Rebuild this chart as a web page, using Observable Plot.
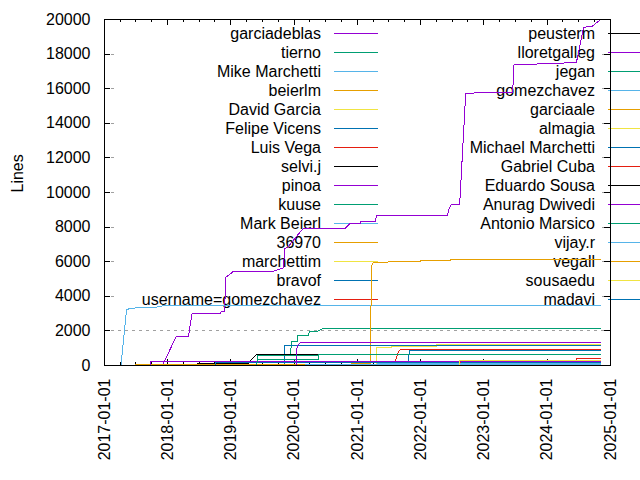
<!DOCTYPE html>
<html><head><meta charset="utf-8">
<script src="https://cdn.jsdelivr.net/npm/d3@7"></script>
<script src="https://cdn.jsdelivr.net/npm/@observablehq/plot@0.6"></script>
<style>html,body{margin:0;padding:0;background:#fff}#chart{width:640px;height:480px}</style>
</head><body><div id="chart"></div>
<script>
// ---- data ----
const authors = [
  "garciadeblas","tierno","Mike Marchetti","beierlm","David Garcia","Felipe Vicens","Luis Vega","selvi.j",
  "pinoa","kuuse","Mark Beierl","36970","marchettim","bravof","username=gomezchavez",
  "peusterm","lloretgalleg","jegan","gomezchavez","garciaale","almagia","Michael Marchetti","Gabriel Cuba",
  "Eduardo Sousa","Anurag Dwivedi","Antonio Marsico","vijay.r","vegall","sousaedu","madavi"
];
const palette = ["#9400d3","#009e73","#56b4e9","#e69f00","#f0e442","#0072b2","#e51e10","#000000"];

const garciadeblas = [["2017-12-05",60],["2018-02-19",1680],["2018-05-01",1680],["2018-05-21",2990],["2018-10-31",2990],["2018-11-06",3100],["2018-11-25",3100],["2018-12-03",5100],["2019-01-17",5450],["2019-09-03",5450],["2019-11-01",5650],["2019-11-07",6780],["2019-11-23",6800],["2020-01-27",7610],["2020-02-25",7940],["2020-10-23",7940],["2020-11-21",8230],["2021-01-18",8230],["2021-01-22",8340],["2021-04-15",8340],["2021-04-20",8690],["2022-06-05",8690],["2022-06-11",9000],["2022-06-25",9290],["2022-08-14",9290],["2022-09-18",15740],["2023-06-16",15800],["2023-06-24",17380],["2024-06-18",17510],["2024-07-30",19550],["2024-09-17",19600],["2024-11-05",20000]];
const tierno = [["2019-02-14",0],["2019-02-16",170],["2019-05-31",170],["2019-06-05",560],["2019-12-10",560],["2019-12-17",1360],["2020-01-18",1390],["2020-01-22",1730],["2020-03-23",1730],["2020-03-30",1980],["2020-05-13",1980],["2020-06-10",2120],["2024-11-05",2120]];
const mikeMarchetti = [["2017-04-06",0],["2017-05-08",3220],["2017-05-31",3310],["2017-11-19",3390],["2017-12-01",3450],["2024-11-05",3450]];
const beierlm = [["2020-11-24",0],["2020-11-25",100],["2021-03-17",100],["2021-03-19",3000],["2021-03-26",5880],["2021-04-04",5970],["2021-12-30",6010],["2021-12-31",6070],["2022-06-20",6070],["2022-06-22",6140],["2024-11-05",6150]];
const davidGarcia = [["2021-04-19",100],["2021-04-22",1020],["2021-07-16",1020],["2021-07-18",1100],["2022-04-01",1100],["2022-04-03",1200],["2024-11-05",1200]];
const felipeVicens = [["2019-11-06",0],["2019-11-08",1140],["2024-11-05",1140]];
const luisVega = [["2020-09-01",0],["2020-09-03",40],["2024-11-05",40]];
const selviJ = [["2018-06-18",0],["2018-06-19",95],["2019-04-14",100],["2019-04-22",270],["2019-05-31",660],["2024-11-05",660]];
const pinoa = [["2019-06-01",0],["2019-06-03",60],["2024-11-05",60]];
const kuuse = [["2019-05-30",0],["2019-06-03",330],["2020-05-21",330],["2020-05-23",660],["2024-11-05",660]];
const markBeierl = [["2021-04-20",0],["2021-04-22",90],["2024-11-05",90]];
const n36970 = [["2017-06-25",0],["2017-06-26",40],["2022-08-18",40],["2022-08-19",75],["2024-11-05",75]];
const marchettim = [["2022-08-14",0],["2022-08-16",30],["2024-11-05",30]];
const bravof = [["2018-10-01",0],["2018-10-03",160],["2024-11-05",160]];
const usernameGomezchavez = [["2022-08-18",0],["2022-08-19",230],["2024-06-18",230],["2024-06-20",390],["2024-11-05",390]];
const peusterm = [["2018-06-18",0],["2018-06-20",20],["2024-11-05",20]];
const lloretgalleg = [["2020-01-15",0],["2020-01-18",1140],["2020-02-05",1300],["2024-11-05",1330]];
const jegan = [["2021-06-08",0],["2021-06-10",70],["2024-11-05",70]];
const gomezchavez = [["2022-08-14",0],["2022-08-16",110],["2024-11-05",110]];
const garciaale = [["2021-03-01",0],["2021-03-03",50],["2024-11-05",50]];
const almagia = [["2023-01-10",0],["2023-01-12",40],["2024-11-05",40]];
const michaelMarchetti = [["2021-10-22",190],["2021-10-27",880],["2024-11-05",880]];
const gabrielCuba = [["2021-08-06",190],["2021-08-26",810],["2021-09-05",905],["2024-11-05",905]];
const eduardoSousa = [["2019-09-01",0],["2019-09-03",10],["2024-11-05",10]];
const anuragDwivedi = [["2017-09-23",0],["2017-09-26",230],["2020-06-01",240],["2024-11-05",250]];
const antonioMarsico = [["2019-05-30",0],["2019-06-05",590],["2020-05-21",590],["2020-05-23",625],["2024-11-05",625]];
const vijayR = [["2020-03-01",0],["2020-03-03",30],["2024-11-05",30]];
const vegall = [["2020-11-20",0],["2020-11-22",15],["2024-11-05",15]];
const sousaedu = [["2022-08-13",0],["2022-08-16",300],["2024-11-05",300]];
const madavi = [["2021-10-22",0],["2021-10-24",20],["2024-11-05",20]];

const seriesValues = [garciadeblas,tierno,mikeMarchetti,beierlm,davidGarcia,felipeVicens,luisVega,selviJ,
  pinoa,kuuse,markBeierl,n36970,marchettim,bravof,usernameGomezchavez,
  peusterm,lloretgalleg,jegan,gomezchavez,garciaale,almagia,michaelMarchetti,gabrielCuba,
  eduardoSousa,anuragDwivedi,antonioMarsico,vijayR,vegall,sousaedu,madavi];

const yTicks = [0,2000,4000,6000,8000,10000,12000,14000,16000,18000,20000];
const xTickLabels = ["2017-01-01","2018-01-01","2019-01-01","2020-01-01","2021-01-01","2022-01-01","2023-01-01","2024-01-01","2025-01-01"];
const yLabel = "Lines";

// ---- build ----
const parse = d3.utcParse("%Y-%m-%d");
const rows = authors.flatMap((a, i) => seriesValues[i].map(([d, v]) => ({author: a, date: parse(d), value: v})));
const xTicks = xTickLabels.map(parse);
const minorTicks = d3.utcMonth.every(3).range(xTicks[0], xTicks[xTicks.length - 1]).filter(d => d.getUTCMonth() !== 0);
const colors = authors.map((a, i) => palette[i % palette.length]);
const crisp = {shapeRendering: "crispEdges"};

const plot = Plot.plot({
  width: 640, height: 480,
  marginLeft: 104, marginRight: 30, marginTop: 19, marginBottom: 115,
  style: {fontFamily: '"Liberation Sans", Arial, sans-serif', fontSize: "16px", background: "white", color: "black"},
  x: {type: "utc", domain: [xTicks[0], xTicks[xTicks.length - 1]]},
  y: {domain: [0, 20000]},
  color: {domain: authors, range: colors},
  marks: [
    Plot.ruleY(yTicks.slice(1, -1), {stroke: "#a0a0a0", strokeDasharray: "3,4", strokeWidth: 1, ...crisp}),
    Plot.tickY(yTicks, {insetRight: 500, stroke: "black", ...crisp}),
    Plot.tickY(yTicks, {insetLeft: 500, stroke: "black", ...crisp}),
    Plot.tickX(xTicks, {insetBottom: 340, stroke: "black", ...crisp}),
    Plot.tickX(xTicks, {insetTop: 340, stroke: "black", ...crisp}),
    Plot.tickX(minorTicks, {insetBottom: 343, stroke: "black", ...crisp}),
    Plot.tickX(minorTicks, {insetTop: 343, stroke: "black", ...crisp}),
    Plot.axisX(xTicks, {tickFormat: d3.utcFormat("%Y-%m-%d"), tickRotate: -90, tickSize: 0, tickPadding: 13, label: null}),
    Plot.axisY(yTicks, {tickSize: 0, tickPadding: 14, label: null, tickFormat: d => String(d)}),
    Plot.text([yLabel], {frameAnchor: "left", dx: -87, rotate: -90, fill: "black"}),
    Plot.line(rows, {x: "date", y: "value", z: "author", stroke: "author", strokeWidth: 1, clip: true, ...crisp}),
    Plot.frame({stroke: "black", ...crisp})
  ]
});

// key (legend) inside the frame, two columns like the original
const key = d3.create("svg:g").attr("aria-label", "key")
  .attr("font-family", '"Liberation Sans", Arial, sans-serif').attr("font-size", 16);
key.append("rect").attr("x", 116).attr("y", 26).attr("width", 486).attr("height", 282).attr("fill", "white");
authors.forEach((a, i) => {
  const col = i < 15 ? 0 : 1, row = i % 15;
  const y = 33.5 + 19 * row;
  const tx = col ? 595 : 321, lx = col ? 608 : 334;
  key.append("text").attr("x", tx).attr("y", y).attr("dy", "0.35em").attr("text-anchor", "end").attr("fill", "#000").text(a);
  key.append("line").attr("x1", lx).attr("x2", lx + 44).attr("y1", y).attr("y2", y)
    .attr("stroke", colors[i]).attr("stroke-width", 1).attr("shape-rendering", "crispEdges");
});
const firstTick = plot.querySelector('g[aria-label="tick"]');
plot.insertBefore(key.node(), firstTick);

document.getElementById("chart").appendChild(plot);
</script>
</body></html>
